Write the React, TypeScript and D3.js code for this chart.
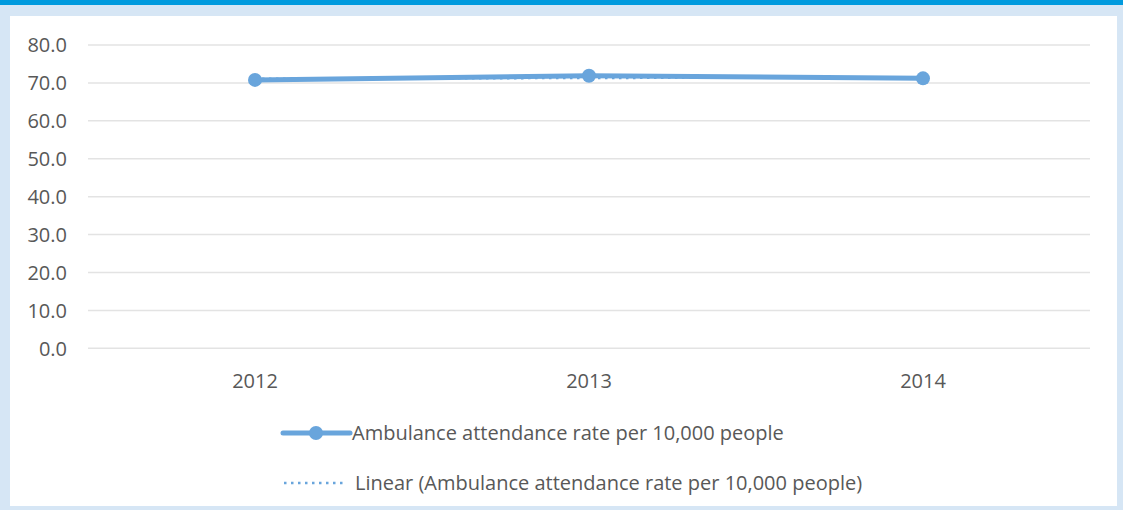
import { useEffect, useRef } from "react";
import * as d3 from "d3";

// Data
const years = ["2012", "2013", "2014"];
const rates = [70.8, 71.9, 71.2];
const yTicks = [0, 10, 20, 30, 40, 50, 60, 70, 80];
const seriesName = "Ambulance attendance rate per 10,000 people";
const trendName = "Linear (Ambulance attendance rate per 10,000 people)";

const W = 1123;
const H = 510;
const FONT = "'Open Sans', 'Noto Sans', sans-serif";
const BLUE = "#69a5dc";

const App = () => {
  const ref = useRef<SVGSVGElement>(null);

  useEffect(() => {
    document.body.style.margin = "0";
    if (!ref.current) return;
    const svg = d3.select(ref.current);
    svg.selectAll("*").remove();

    // frame
    svg.append("rect").attr("width", W).attr("height", H).attr("fill", "#d6e6f5");
    svg.append("rect").attr("width", W).attr("height", 5).attr("fill", "#009ade");
    svg.append("rect").attr("x", 10).attr("y", 16).attr("width", 1107).attr("height", 490).attr("fill", "#fff");

    const x = d3.scaleBand().domain(years).range([88, 1090]);
    const y = d3.scaleLinear().domain([0, 80]).range([348.3, 45]);
    const cx = (d: string) => (x(d) ?? 0) + x.bandwidth() / 2;

    // grid
    svg
      .append("g")
      .selectAll("line")
      .data(yTicks)
      .enter()
      .append("line")
      .attr("x1", 88)
      .attr("x2", 1090)
      .attr("y1", (d) => y(d))
      .attr("y2", (d) => y(d))
      .attr("stroke", "#e3e3e3")
      .attr("stroke-width", 1.5);

    // y labels
    svg
      .append("g")
      .selectAll("text")
      .data(yTicks)
      .enter()
      .append("text")
      .attr("x", 67)
      .attr("y", (d) => y(d))
      .attr("dy", "0.36em")
      .attr("text-anchor", "end")
      .style("font-family", FONT)
      .style("font-size", "20px")
      .attr("fill", "#585858")
      .text((d) => d.toFixed(1));

    // x labels
    svg
      .append("g")
      .selectAll("text")
      .data(years)
      .enter()
      .append("text")
      .attr("x", (d) => cx(d))
      .attr("y", 381)
      .attr("dy", "0.36em")
      .attr("text-anchor", "middle")
      .style("font-family", FONT)
      .style("font-size", "20px")
      .attr("fill", "#585858")
      .text((d) => d);

    // linear trend
    const n = rates.length;
    const xm = (n - 1) / 2;
    const ym = d3.mean(rates) ?? 0;
    const slope =
      d3.sum(rates, (v, i) => (i - xm) * (v - ym)) / d3.sum(rates, (_, i) => (i - xm) ** 2);
    const trend = rates.map((_, i) => ym + slope * (i - xm));

    const line = d3
      .line<number>()
      .x((_, i) => cx(years[i]))
      .y((d) => y(d));

    svg
      .append("path")
      .attr("d", line(trend))
      .attr("fill", "none")
      .attr("stroke", BLUE)
      .attr("stroke-width", 2.5)
      .attr("stroke-dasharray", "2.5 4.5");

    svg
      .append("path")
      .attr("d", line(rates))
      .attr("fill", "none")
      .attr("stroke", BLUE)
      .attr("stroke-width", 5)
      .attr("stroke-linejoin", "round");

    svg
      .append("g")
      .selectAll("circle")
      .data(rates)
      .enter()
      .append("circle")
      .attr("cx", (_, i) => cx(years[i]))
      .attr("cy", (d) => y(d))
      .attr("r", 7)
      .attr("fill", BLUE);

    // legend
    const lg = svg.append("g");
    lg.append("line")
      .attr("x1", 283).attr("x2", 350).attr("y1", 433).attr("y2", 433)
      .attr("stroke", BLUE).attr("stroke-width", 5).attr("stroke-linecap", "round");
    lg.append("circle").attr("cx", 316).attr("cy", 433).attr("r", 7).attr("fill", BLUE);
    lg.append("text")
      .attr("x", 352).attr("y", 433).attr("dy", "0.36em")
      .style("font-family", FONT).style("font-size", "20px").attr("fill", "#585858")
      .text(seriesName);
    lg.append("line")
      .attr("x1", 284).attr("x2", 346).attr("y1", 483).attr("y2", 483)
      .attr("stroke", BLUE).attr("stroke-width", 2.5).attr("stroke-dasharray", "2.5 4.5");
    lg.append("text")
      .attr("x", 355).attr("y", 483).attr("dy", "0.36em")
      .style("font-family", FONT).style("font-size", "20px").attr("fill", "#585858")
      .text(trendName);
  }, []);

  return <svg ref={ref} width={W} height={H} style={{ display: "block" }} />;
};

export default App;
